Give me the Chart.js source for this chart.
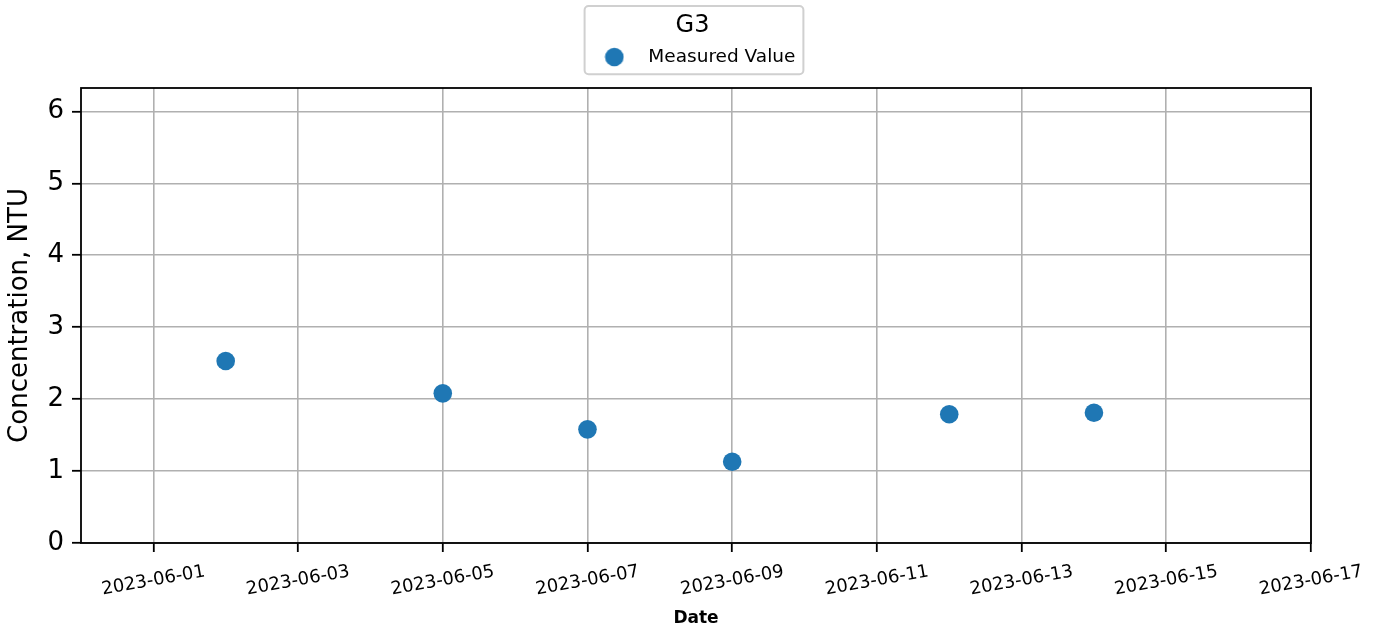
<!DOCTYPE html>
<html>
<head>
<meta charset="utf-8">
<script src="https://cdn.jsdelivr.net/npm/chart.js@4/dist/chart.umd.min.js"></script>
<style>
  html, body { margin: 0; padding: 0; background: #ffffff; }
  canvas { display: block; }
</style>
</head>
<body>
<canvas id="chart" width="1381" height="633"></canvas>
<script>
// Data
const seriesName = "Measured Value";
const legendTitle = "G3";
const sampleDates = ["2023-06-02", "2023-06-05", "2023-06-07", "2023-06-09", "2023-06-12", "2023-06-14"];
const sampleValues = [2.53, 2.08, 1.58, 1.13, 1.79, 1.81];
const xTickLabels = ["2023-06-01", "2023-06-03", "2023-06-05", "2023-06-07", "2023-06-09",
  "2023-06-11", "2023-06-13", "2023-06-15", "2023-06-17"];
const yTickValues = [0, 1, 2, 3, 4, 5, 6];
const xRange = ["2023-05-31", "2023-06-17"];
const yRange = [0, 6.325];

const DAY = 86400000;
function toDay(s) {
  const [y, m, d] = s.split("-").map(Number);
  return Date.UTC(y, m - 1, d) / DAY;
}
function fromDay(v) {
  return new Date(Math.round(v) * DAY).toISOString().slice(0, 10);
}

const blue = "#1f77b4";
const legendTop = 6; // legend sits at the top of the figure, not against the plot

// legend marker: a round dot drawn on a small canvas
const legendDot = document.createElement("canvas");
legendDot.width = 20;
legendDot.height = 20;
const dctx = legendDot.getContext("2d");
dctx.fillStyle = blue;
dctx.beginPath();
dctx.arc(10, 10, 9.3, 0, Math.PI * 2);
dctx.fill();

Chart.defaults.font.family = "'DejaVu Sans', sans-serif";
Chart.defaults.color = "#000000";

// frame round the plot area and box round the legend
const framePlugin = {
  id: "frame",
  afterLayout(chart) {
    const lg = chart.legend;
    if (!lg) return;
    const d = lg.top - legendTop;
    lg.top -= d;
    lg.bottom -= d;
    // matplotlib centres the box, not the row: nudge title and row a little right
    lg.left += 2;
    lg.right += 2;
  },
  beforeDraw(chart) {
    const lg = chart.legend;
    if (!lg || !lg.legendHitBoxes.length) return;
    const hb = lg.legendHitBoxes[0];
    const ctx = chart.ctx;
    const left = hb.left - 5;
    const right = hb.left + hb.width + 8;
    const top = lg.top;
    const bottom = lg.bottom - 2;
    ctx.save();
    ctx.beginPath();
    ctx.roundRect(left, top, right - left, bottom - top, 4);
    ctx.fillStyle = "rgba(255,255,255,0.8)";
    ctx.fill();
    ctx.strokeStyle = "#d0d0d0";
    ctx.lineWidth = 2;
    ctx.stroke();
    ctx.restore();
  },
  afterDraw(chart) {
    const a = chart.chartArea;
    const ctx = chart.ctx;
    ctx.save();
    ctx.strokeStyle = "#000000";
    ctx.lineWidth = 1.8;
    ctx.strokeRect(a.left, a.top, a.right - a.left, a.bottom - a.top);
    ctx.restore();
  },
};

const chart = new Chart(document.getElementById("chart").getContext("2d"), {
  type: "scatter",
  data: {
    datasets: [
      {
        label: seriesName,
        data: sampleDates.map((d, i) => ({ x: toDay(d), y: sampleValues[i] })),
        backgroundColor: blue,
        borderWidth: 0,
        pointRadius: 9.3,
        pointHoverRadius: 9.3,
      },
    ],
  },
  options: {
    responsive: false,
    animation: false,
    events: [],
    layout: { padding: { top: 6, left: 0, right: 0, bottom: 0 } },
    plugins: {
      tooltip: { enabled: false },
      legend: {
        position: "top",
        align: "center",
        title: {
          display: true,
          text: legendTitle,
          font: { size: 24 },
          padding: { top: 8, bottom: 0 },
        },
        labels: {
          usePointStyle: true,
          pointStyle: legendDot,
          pointStyleWidth: 49.5,
          padding: 5,
          font: { size: 18.5 },
          color: "#000000",
        },
      },
    },
    scales: {
      x: {
        type: "linear",
        min: toDay(xRange[0]),
        max: toDay(xRange[1]),
        afterBuildTicks: (s) => {
          s.ticks = xTickLabels.map((t) => ({ value: toDay(t) }));
        },
        afterFit: (s) => {
          s.height = 90;
          s.paddingLeft = 0;
          s.paddingRight = 70;
        },
        border: { display: false },
        grid: {
          color: "#b0b0b0",
          lineWidth: 1.6,
          tickColor: "#000000",
          tickWidth: 1.8,
          tickLength: 9,
        },
        ticks: {
          autoSkip: false,
          minRotation: 10,
          maxRotation: 10,
          labelOffset: 51.5,
          padding: 9,
          font: { size: 18 },
          color: "#000000",
          callback: (v) => fromDay(v),
        },
        title: {
          display: true,
          text: "Date",
          font: { size: 17, weight: "bold" },
          padding: { top: 0, bottom: 4 },
          color: "#000000",
        },
      },
      y: {
        type: "linear",
        min: yRange[0],
        max: yRange[1],
        afterBuildTicks: (s) => {
          s.ticks = yTickValues.map((v) => ({ value: v }));
        },
        afterFit: (s) => {
          s.width = 81;
          s.paddingTop = 88;
          s.paddingBottom = 0;
        },
        border: { display: false },
        grid: {
          color: "#b0b0b0",
          lineWidth: 1.6,
          tickColor: "#000000",
          tickWidth: 1.8,
          tickLength: 9,
        },
        ticks: {
          padding: 8,
          font: { size: 26 },
          color: "#000000",
          callback: (v) => String(v),
        },
        title: {
          display: true,
          text: "Concentration, NTU",
          font: { size: 26, lineHeight: 1 },
          padding: { top: 7, bottom: 0 },
          color: "#000000",
        },
      },
    },
  },
  plugins: [framePlugin],
});
</script>
</body>
</html>
